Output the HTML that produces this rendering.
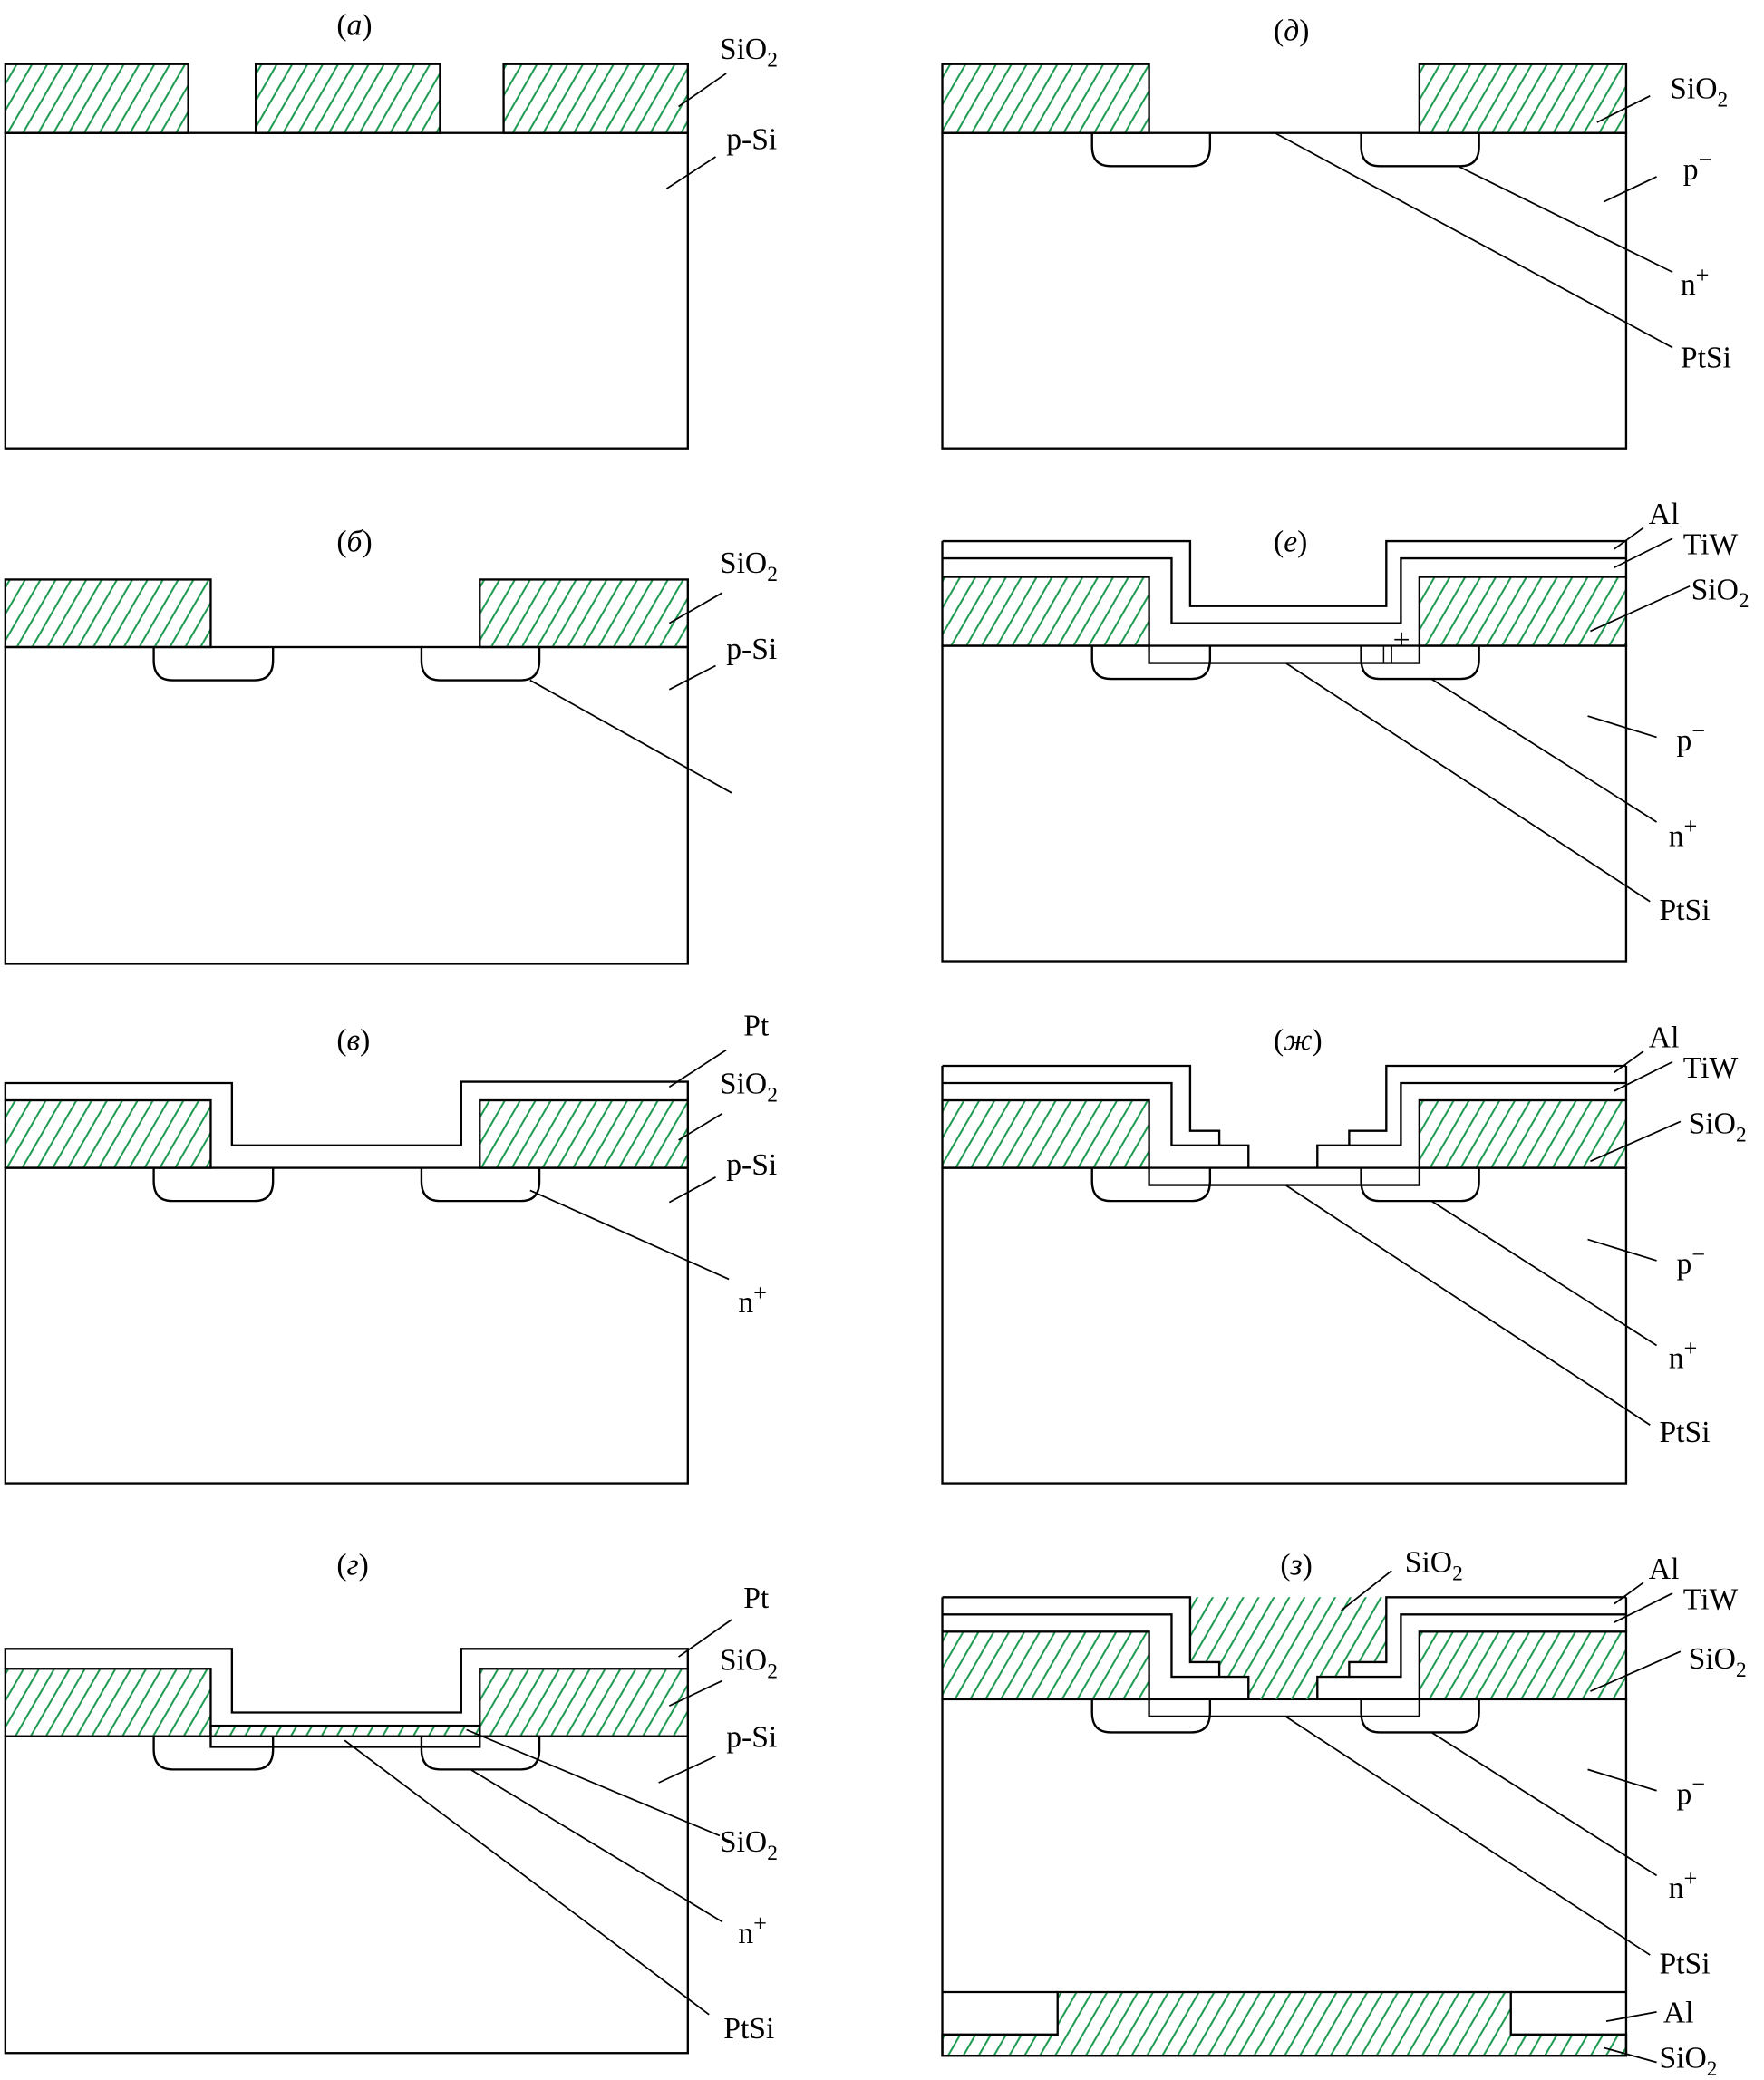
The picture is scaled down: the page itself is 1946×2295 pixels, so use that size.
<!DOCTYPE html>
<html><head><meta charset="utf-8"><style>
html,body{margin:0;padding:0;background:#fff}
svg{display:block}
text{font-family:"Liberation Serif",serif;font-size:23px;fill:#000}
.t{font-style:italic}
</style></head><body>
<svg width="1946" height="2295" viewBox="0 0 1331 1569" xmlns="http://www.w3.org/2000/svg">
<defs>
<pattern id="h" width="10" height="10" patternUnits="userSpaceOnUse" patternTransform="rotate(30)">
<line x1="5" y1="-2" x2="5" y2="12" stroke="#1f9a52" stroke-width="1.4"/>
</pattern>
</defs>
<g fill="none" stroke="#000" stroke-width="1.6">

<!-- (a) -->
<rect x="4" y="100" width="515" height="238" fill="#fff"/>
<rect x="4" y="48" width="138" height="52" fill="url(#h)"/>
<rect x="193" y="48" width="139" height="52" fill="url(#h)"/>
<rect x="380" y="48" width="139" height="52" fill="url(#h)"/>
<line x1="512" y1="80" x2="548" y2="55" stroke-width="1.2"/>
<line x1="503" y1="142" x2="540" y2="118" stroke-width="1.2"/>

<!-- (б) -->
<rect x="4" y="488" width="515" height="239"/>
<rect x="4" y="437" width="155" height="51" fill="url(#h)"/>
<rect x="362" y="437" width="157" height="51" fill="url(#h)"/>
<path d="M116,488 V498 Q116,513 130,513 H192 Q206,513 206,498 V488"/>
<path d="M318,488 V498 Q318,513 332,513 H393 Q407,513 407,498 V488"/>
<line x1="400" y1="513" x2="552" y2="598" stroke-width="1.2"/>
<line x1="505" y1="470" x2="545" y2="447" stroke-width="1.2"/>
<line x1="505" y1="520" x2="540" y2="502" stroke-width="1.2"/>

<!-- (в) -->
<rect x="4" y="881" width="515" height="238"/>
<rect x="4" y="830" width="155" height="51" fill="url(#h)"/>
<rect x="362" y="830" width="157" height="51" fill="url(#h)"/>
<path d="M4,830 V817 H175 V864 H348 V816 H519 V830"/>
<path d="M116,881 V891 Q116,906 130,906 H192 Q206,906 206,891 V881"/>
<path d="M318,881 V891 Q318,906 332,906 H393 Q407,906 407,891 V881"/>
<line x1="505" y1="820" x2="548" y2="792" stroke-width="1.2"/>
<line x1="512" y1="860" x2="545" y2="840" stroke-width="1.2"/>
<line x1="505" y1="907" x2="540" y2="888" stroke-width="1.2"/>
<line x1="400" y1="898" x2="550" y2="965" stroke-width="1.2"/>

<!-- (г) -->
<rect x="4" y="1310" width="515" height="239"/>
<rect x="4" y="1259" width="155" height="51" fill="url(#h)"/>
<rect x="362" y="1259" width="157" height="51" fill="url(#h)"/>
<path d="M4,1259 V1244 H175 V1292 H348 V1244 H519 V1259"/>
<rect x="159" y="1302" width="203" height="8" fill="url(#h)"/>
<path d="M159,1310 V1318 H362 V1310"/>
<path d="M116,1310 V1320 Q116,1335 130,1335 H192 Q206,1335 206,1320 V1310"/>
<path d="M318,1310 V1320 Q318,1335 332,1335 H393 Q407,1335 407,1320 V1310"/>
<line x1="512" y1="1250" x2="552" y2="1222" stroke-width="1.2"/>
<line x1="505" y1="1287" x2="545" y2="1268" stroke-width="1.2"/>
<line x1="497" y1="1345" x2="540" y2="1325" stroke-width="1.2"/>
<line x1="352" y1="1305" x2="543" y2="1385" stroke-width="1.2"/>
<line x1="355" y1="1335" x2="545" y2="1450" stroke-width="1.2"/>
<line x1="260" y1="1313" x2="535" y2="1520" stroke-width="1.2"/>

<!-- (д) -->
<rect x="711" y="100" width="516" height="238"/>
<rect x="711" y="48" width="156" height="52" fill="url(#h)"/>
<rect x="1071" y="48" width="156" height="52" fill="url(#h)"/>
<path d="M824,100 V110 Q824,125 838,125 H899 Q913,125 913,110 V100"/>
<path d="M1027,100 V110 Q1027,125 1041,125 H1102 Q1116,125 1116,110 V100"/>
<line x1="1205" y1="92" x2="1245" y2="72" stroke-width="1.2"/>
<line x1="1210" y1="152" x2="1250" y2="133" stroke-width="1.2"/>
<line x1="1100" y1="125" x2="1262" y2="205" stroke-width="1.2"/>
<line x1="962" y1="100" x2="1262" y2="262" stroke-width="1.2"/>

<!-- (е) -->
<rect x="711" y="487" width="516" height="238"/>
<rect x="711" y="435" width="156" height="52" fill="url(#h)"/>
<rect x="1071" y="435" width="156" height="52" fill="url(#h)"/>
<path d="M711,408 H898 V457 H1046 V408 H1227 V435"/>
<path d="M711,408 V435"/>
<path d="M711,421 H884 V470 H1057 V421 H1227"/>
<path d="M867,487 V500 H1071 V487"/>
<path d="M824,487 V497 Q824,512 838,512 H899 Q913,512 913,497 V487"/>
<path d="M1027,487 V497 Q1027,512 1041,512 H1102 Q1116,512 1116,497 V487"/>
<path d="M1044,500 V487 M1050,500 V487" stroke-width="1"/>
<line x1="1218" y1="414" x2="1240" y2="398" stroke-width="1.2"/>
<line x1="1218" y1="428" x2="1262" y2="406" stroke-width="1.2"/>
<line x1="1200" y1="476" x2="1275" y2="442" stroke-width="1.2"/>
<line x1="1198" y1="540" x2="1250" y2="556" stroke-width="1.2"/>
<line x1="1080" y1="512" x2="1250" y2="620" stroke-width="1.2"/>
<line x1="970" y1="500" x2="1245" y2="680" stroke-width="1.2"/>

<!-- (ж) -->
<rect x="711" y="881" width="516" height="238"/>
<rect x="711" y="830" width="156" height="51" fill="url(#h)"/>
<rect x="1071" y="830" width="156" height="51" fill="url(#h)"/>
<path d="M711,804 V830"/>
<path d="M711,804 H898 V853 H920 V864"/>
<path d="M711,817 H884 V864 H942 V881"/>
<path d="M1227,804 V830"/>
<path d="M1227,804 H1046 V853 H1018 V864"/>
<path d="M1227,817 H1057 V864 H994 V881"/>
<path d="M867,881 V894 H1071 V881"/>
<path d="M824,881 V891 Q824,906 838,906 H899 Q913,906 913,891 V881"/>
<path d="M1027,881 V891 Q1027,906 1041,906 H1102 Q1116,906 1116,891 V881"/>
<line x1="1218" y1="809" x2="1240" y2="793" stroke-width="1.2"/>
<line x1="1218" y1="823" x2="1262" y2="801" stroke-width="1.2"/>
<line x1="1200" y1="876" x2="1268" y2="846" stroke-width="1.2"/>
<line x1="1198" y1="935" x2="1250" y2="951" stroke-width="1.2"/>
<line x1="1080" y1="906" x2="1250" y2="1015" stroke-width="1.2"/>
<line x1="970" y1="894" x2="1245" y2="1075" stroke-width="1.2"/>

<!-- (з) -->
<rect x="711" y="1282" width="516" height="269"/>
<rect x="711" y="1231" width="156" height="51" fill="url(#h)"/>
<rect x="1071" y="1231" width="156" height="51" fill="url(#h)"/>
<path d="M898,1205 H1046 V1254 H1018 V1265 H994 V1282 H942 V1265 H920 V1254 H898 Z" fill="url(#h)" stroke="none"/>
<path d="M711,1205 V1231"/>
<path d="M711,1205 H898 V1254 H920 V1265"/>
<path d="M711,1218 H884 V1265 H942 V1282"/>
<path d="M1227,1205 V1231"/>
<path d="M1227,1205 H1046 V1254 H1018 V1265"/>
<path d="M1227,1218 H1057 V1265 H994 V1282"/>
<path d="M867,1282 V1295 H1071 V1282"/>
<path d="M824,1282 V1292 Q824,1307 838,1307 H899 Q913,1307 913,1292 V1282"/>
<path d="M1027,1282 V1292 Q1027,1307 1041,1307 H1102 Q1116,1307 1116,1292 V1282"/>
<path d="M798,1503 H1140 V1535 H1227 V1551 H711 V1535 H798 Z" fill="url(#h)"/>
<path d="M711,1503 H798 M1140,1503 H1227"/>
<line x1="1012" y1="1215" x2="1050" y2="1185" stroke-width="1.2"/>
<line x1="1218" y1="1210" x2="1240" y2="1194" stroke-width="1.2"/>
<line x1="1218" y1="1224" x2="1262" y2="1202" stroke-width="1.2"/>
<line x1="1200" y1="1276" x2="1268" y2="1246" stroke-width="1.2"/>
<line x1="1198" y1="1335" x2="1250" y2="1351" stroke-width="1.2"/>
<line x1="1080" y1="1307" x2="1250" y2="1415" stroke-width="1.2"/>
<line x1="970" y1="1295" x2="1245" y2="1475" stroke-width="1.2"/>
<line x1="1212" y1="1525" x2="1250" y2="1518" stroke-width="1.2"/>
<line x1="1210" y1="1545" x2="1250" y2="1556" stroke-width="1.2"/>
</g>

<!-- titles -->
<text x="254" y="26">(<tspan class="t">а</tspan>)</text>
<text x="254" y="416">(<tspan class="t">б</tspan>)</text>
<text x="254" y="792">(<tspan class="t">в</tspan>)</text>
<text x="254" y="1188">(<tspan class="t">г</tspan>)</text>
<text x="961" y="30">(<tspan class="t">д</tspan>)</text>
<text x="961" y="416">(<tspan class="t">е</tspan>)</text>
<text x="961" y="792">(<tspan class="t">ж</tspan>)</text>
<text x="966" y="1188">(<tspan class="t">з</tspan>)</text>

<!-- labels left -->
<text x="543" y="44">SiO<tspan font-size="16" dy="6">2</tspan></text>
<text x="548" y="112">p-Si</text>
<text x="543" y="432">SiO<tspan font-size="16" dy="6">2</tspan></text>
<text x="548" y="497">p-Si</text>
<text x="561" y="781">Pt</text>
<text x="543" y="825">SiO<tspan font-size="16" dy="6">2</tspan></text>
<text x="548" y="886">p-Si</text>
<text x="557" y="990">n<tspan font-size="18" dy="-9">+</tspan></text>
<text x="561" y="1213">Pt</text>
<text x="543" y="1260">SiO<tspan font-size="16" dy="6">2</tspan></text>
<text x="548" y="1318">p-Si</text>
<text x="543" y="1397">SiO<tspan font-size="16" dy="6">2</tspan></text>
<text x="557" y="1466">n<tspan font-size="18" dy="-9">+</tspan></text>
<text x="546" y="1538">PtSi</text>

<!-- labels right -->
<text x="1260" y="74">SiO<tspan font-size="16" dy="6">2</tspan></text>
<text x="1270" y="135">p<tspan font-size="18" dy="-9">−</tspan></text>
<text x="1268" y="222">n<tspan font-size="18" dy="-9">+</tspan></text>
<text x="1268" y="277">PtSi</text>

<text x="1244" y="395">Al</text>
<text x="1270" y="418">TiW</text>
<text x="1276" y="452">SiO<tspan font-size="16" dy="6">2</tspan></text>
<text x="1265" y="566">p<tspan font-size="18" dy="-9">−</tspan></text>
<text x="1259" y="638">n<tspan font-size="18" dy="-9">+</tspan></text>
<text x="1252" y="694">PtSi</text>

<text x="1244" y="790">Al</text>
<text x="1270" y="813">TiW</text>
<text x="1274" y="855">SiO<tspan font-size="16" dy="6">2</tspan></text>
<text x="1265" y="961">p<tspan font-size="18" dy="-9">−</tspan></text>
<text x="1259" y="1032">n<tspan font-size="18" dy="-9">+</tspan></text>
<text x="1252" y="1088">PtSi</text>

<text x="1060" y="1186">SiO<tspan font-size="16" dy="6">2</tspan></text>
<text x="1244" y="1191">Al</text>
<text x="1270" y="1214">TiW</text>
<text x="1274" y="1259">SiO<tspan font-size="16" dy="6">2</tspan></text>
<text x="1265" y="1361">p<tspan font-size="18" dy="-9">−</tspan></text>
<text x="1259" y="1432">n<tspan font-size="18" dy="-9">+</tspan></text>
<text x="1252" y="1489">PtSi</text>
<text x="1255" y="1526">Al</text>
<text x="1252" y="1560">SiO<tspan font-size="16" dy="6">2</tspan></text>
<text x="1051" y="490" font-size="16">+</text>
</svg>
</body></html>
